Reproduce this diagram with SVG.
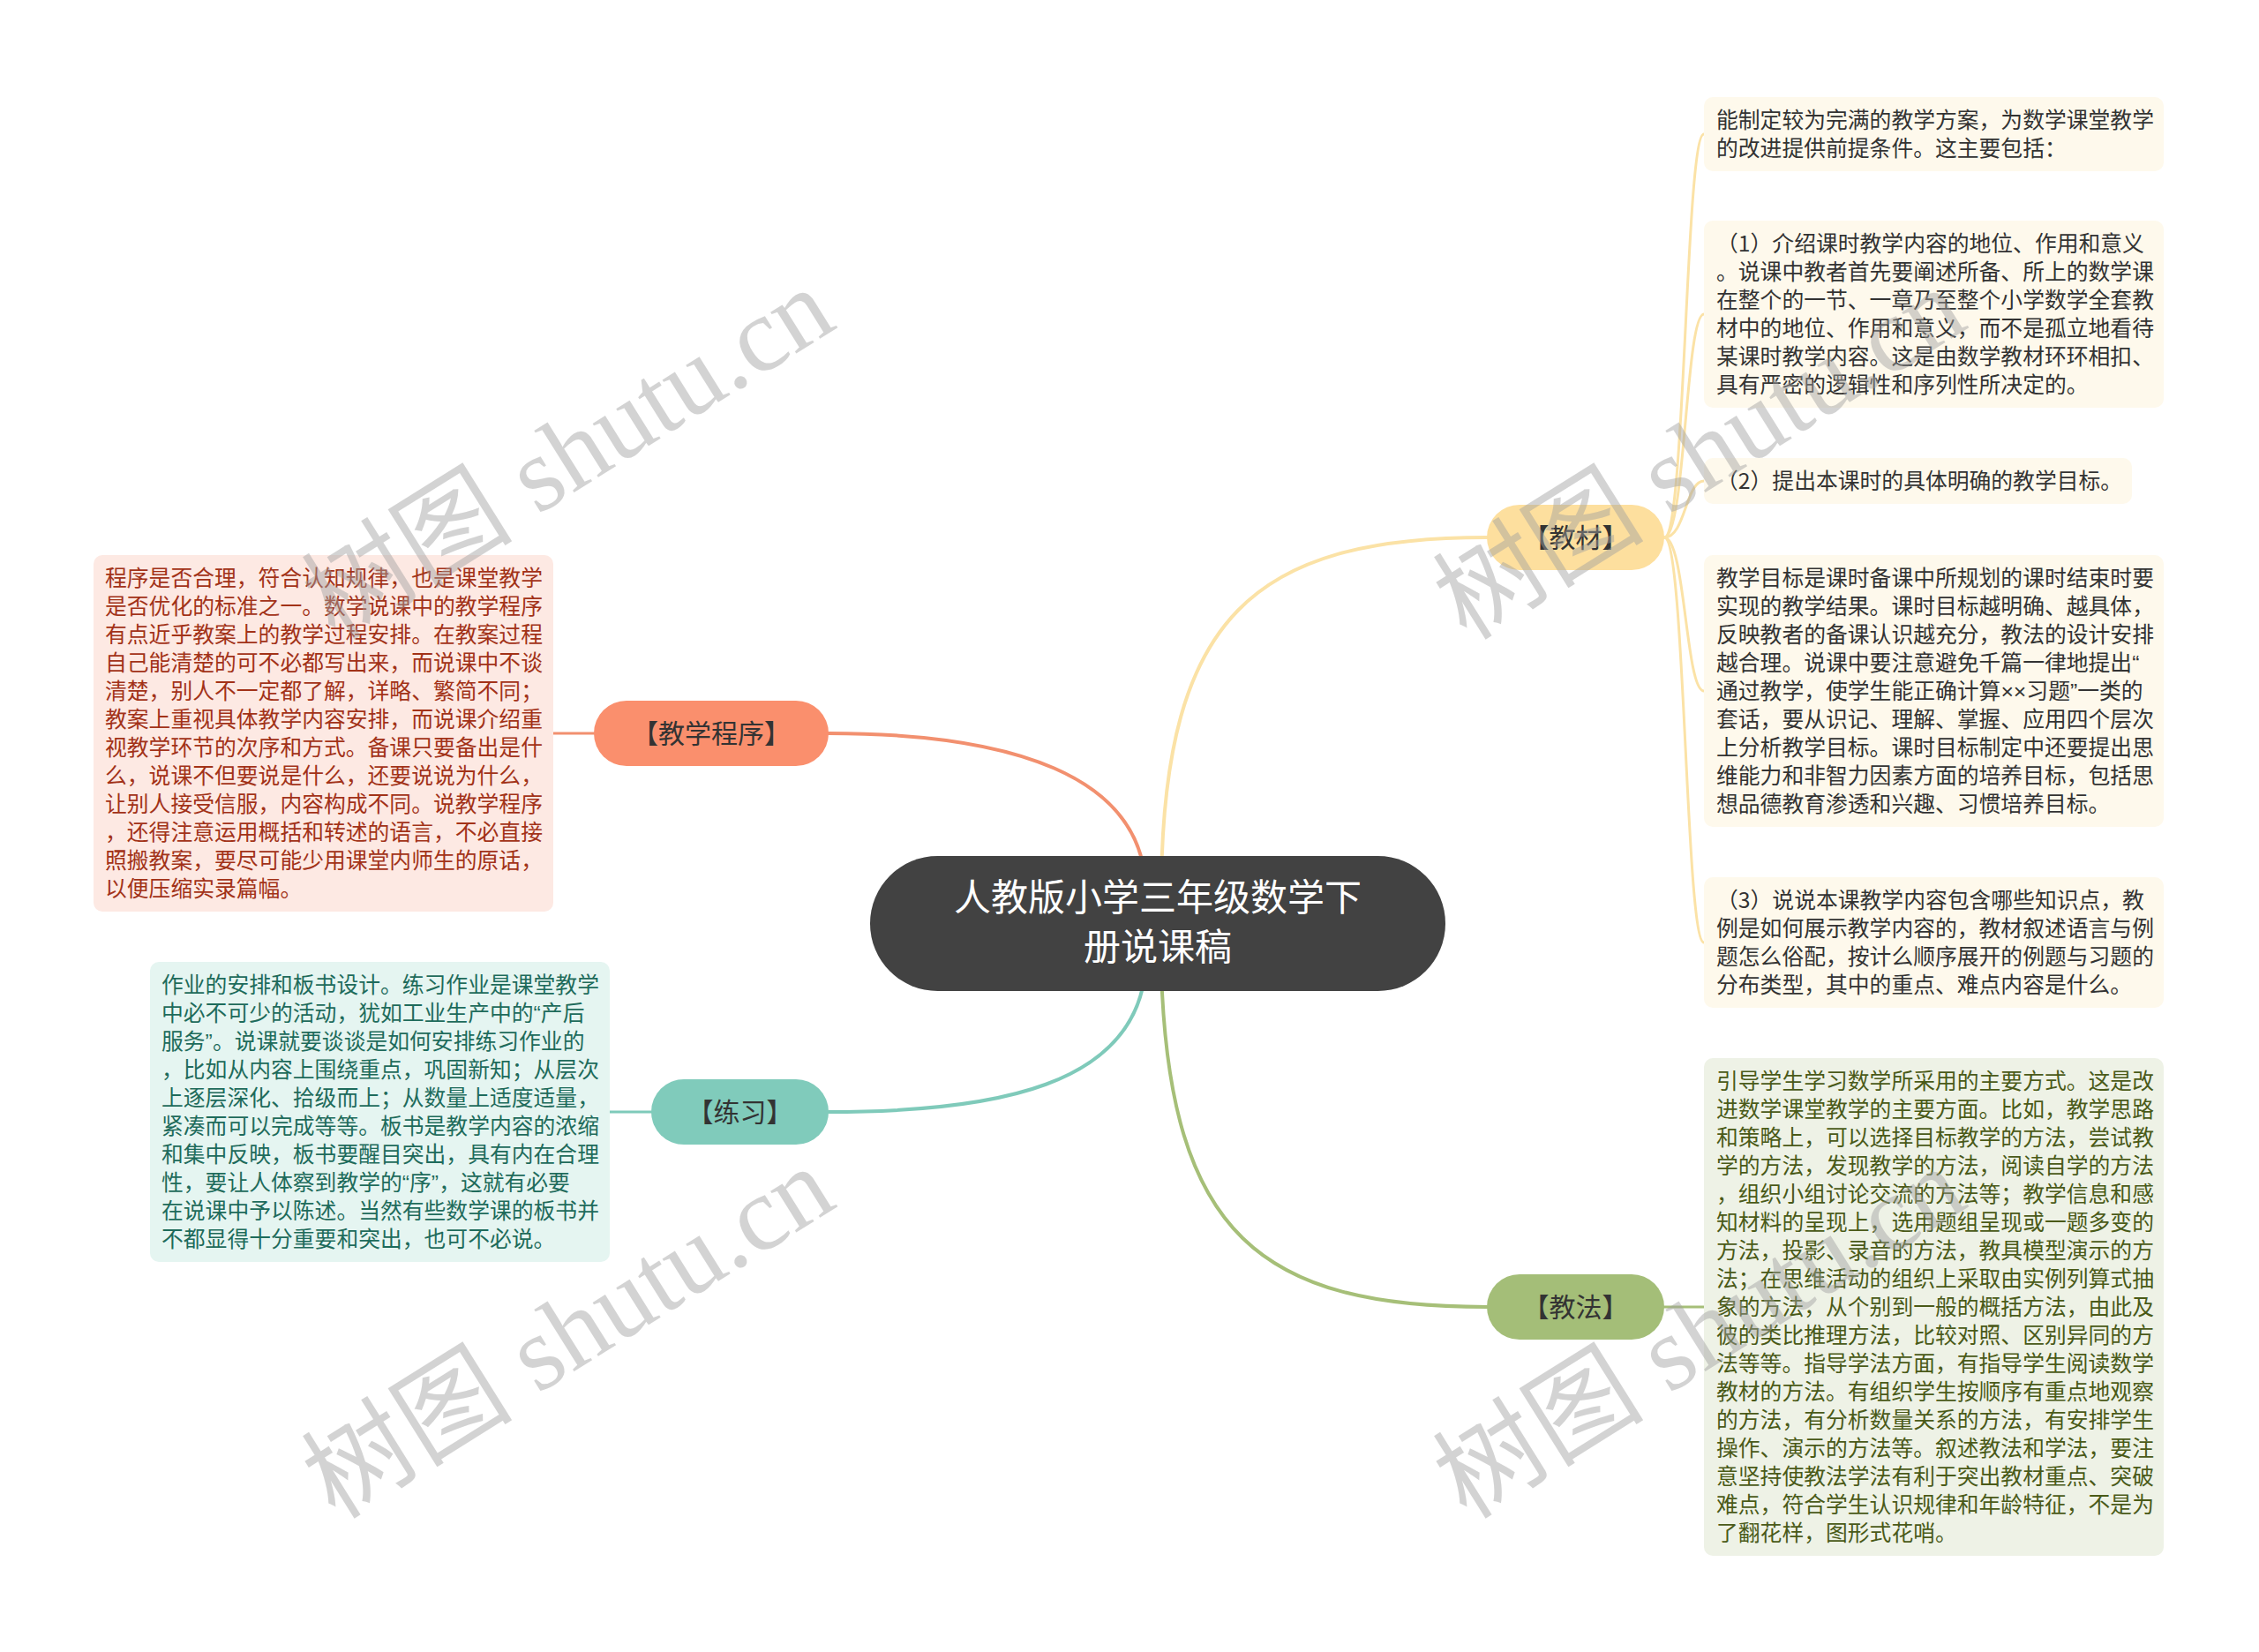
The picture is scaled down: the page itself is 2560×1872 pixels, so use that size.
<svg xmlns="http://www.w3.org/2000/svg" width="2560" height="1872" viewBox="0 0 2560 1872">
<style>
text{font-family:"Noto Sans CJK SC","Noto Sans",sans-serif}
.t{font-size:24.8px}
.q{font-family:"Liberation Sans","Noto Sans CJK SC",sans-serif}
.br{font-size:30px;fill:#333;text-anchor:middle}
.root{font-size:42px;fill:#fff;text-anchor:middle}
.c{fill:none;stroke-linecap:round}
.wm{font-family:"Liberation Serif","Noto Sans CJK SC",serif;font-size:120px;fill:#a0a0a0;opacity:.45}
</style>
<rect width="2560" height="1872" fill="#fff"/>
<g id="connectors">
<path class="c" d="M1298 1000 C1290 880 1150 831 939 831" stroke="#F2906F" stroke-width="4"/>
<path class="c" d="M1298 1100 C1285 1230 1130 1260 939 1260" stroke="#7FCABA" stroke-width="4"/>
<path class="c" d="M1316 1000 C1320 700 1420 609 1685 609" stroke="#FBE2A6" stroke-width="4"/>
<path class="c" d="M1316 1100 C1325 1400 1430 1481 1685 1481" stroke="#A6BF78" stroke-width="4"/>
<path class="c" d="M673 831 H627" stroke="#F2906F" stroke-width="3"/>
<path class="c" d="M738 1260 H691" stroke="#7FCABA" stroke-width="3"/>
<path class="c" d="M1886 1481 H1931" stroke="#A6BF78" stroke-width="3"/>
<path class="c" d="M1886 609 C1910 609 1910 152 1931 152" stroke="#FBE2A6" stroke-width="3"/>
<path class="c" d="M1886 609 C1910 609 1910 356 1931 356" stroke="#FBE2A6" stroke-width="3"/>
<path class="c" d="M1886 609 C1910 609 1910 545 1931 545" stroke="#FBE2A6" stroke-width="3"/>
<path class="c" d="M1886 609 C1910 609 1910 783 1931 783" stroke="#FBE2A6" stroke-width="3"/>
<path class="c" d="M1886 609 C1910 609 1910 1068 1931 1068" stroke="#FBE2A6" stroke-width="3"/>
</g>
<g id="root">
<rect x="986" y="970" width="652" height="153" rx="76.5" fill="#424242"/>
<text class="root" x="1312" y="1032">人教版小学三年级数学下</text>
<text class="root" x="1312" y="1088">册说课稿</text>
</g>
<g id="n-chengxu">
<rect x="673" y="794" width="266" height="74" rx="37" fill="#FA8F6D"/>
<text class="br" x="806" y="842">【教学程序】</text>
</g>
<g id="n-lianxi">
<rect x="738" y="1223" width="201" height="74" rx="37" fill="#80CBBB"/>
<text class="br" x="838.5" y="1271">【练习】</text>
</g>
<g id="n-jiaocai">
<rect x="1685" y="572" width="201" height="74" rx="37" fill="#FDDF9E"/>
<text class="br" x="1785.5" y="620">【教材】</text>
</g>
<g id="n-jiaofa">
<rect x="1685" y="1444" width="201" height="74" rx="37" fill="#A4BE78"/>
<text class="br" x="1785.5" y="1492">【教法】</text>
</g>
<g id="leaf-chengxu">
<rect x="106" y="629" width="521" height="404" rx="10" fill="#FDE9E3"/>
<text class="t" fill="#A23218">
<tspan x="119" y="664">程序是否合理，符合认知规律，也是课堂教学</tspan>
<tspan x="119" y="696">是否优化的标准之一。数学说课中的教学程序</tspan>
<tspan x="119" y="728">有点近乎教案上的教学过程安排。在教案过程</tspan>
<tspan x="119" y="760">自己能清楚的可不必都写出来，而说课中不谈</tspan>
<tspan x="119" y="792">清楚，别人不一定都了解，详略、繁简不同；</tspan>
<tspan x="119" y="824">教案上重视具体教学内容安排，而说课介绍重</tspan>
<tspan x="119" y="856">视教学环节的次序和方式。备课只要备出是什</tspan>
<tspan x="119" y="888">么，说课不但要说是什么，还要说说为什么，</tspan>
<tspan x="119" y="920">让别人接受信服，内容构成不同。说教学程序</tspan>
<tspan x="119" y="952">，还得注意运用概括和转述的语言，不必直接</tspan>
<tspan x="119" y="984">照搬教案，要尽可能少用课堂内师生的原话，</tspan>
<tspan x="119" y="1016">以便压缩实录篇幅。</tspan>
</text>
</g>
<g id="leaf-lianxi">
<rect x="170" y="1090" width="521" height="340" rx="10" fill="#E5F5F1"/>
<text class="t" fill="#1E6B5B">
<tspan x="183" y="1125">作业的安排和板书设计。练习作业是课堂教学</tspan>
<tspan x="183" y="1157">中必不可少的活动，犹如工业生产中的<tspan class="q">“</tspan>产后</tspan>
<tspan x="183" y="1189">服务<tspan class="q">”</tspan>。说课就要谈谈是如何安排练习作业的</tspan>
<tspan x="183" y="1221">，比如从内容上围绕重点，巩固新知；从层次</tspan>
<tspan x="183" y="1253">上逐层深化、拾级而上；从数量上适度适量，</tspan>
<tspan x="183" y="1285">紧凑而可以完成等等。板书是教学内容的浓缩</tspan>
<tspan x="183" y="1317">和集中反映，板书要醒目突出，具有内在合理</tspan>
<tspan x="183" y="1349">性，要让人体察到教学的<tspan class="q">“</tspan>序<tspan class="q">”</tspan>，这就有必要</tspan>
<tspan x="183" y="1381">在说课中予以陈述。当然有些数学课的板书并</tspan>
<tspan x="183" y="1413">不都显得十分重要和突出，也可不必说。</tspan>
</text>
</g>
<g id="leaf-jc1">
<rect x="1931" y="110" width="521" height="84" rx="10" fill="#FEF9EC"/>
<text class="t" fill="#333">
<tspan x="1945" y="145">能制定较为完满的教学方案，为数学课堂教学</tspan>
<tspan x="1945" y="177">的改进提供前提条件。这主要包括：</tspan>
</text>
</g>
<g id="leaf-jc2">
<rect x="1931" y="250" width="521" height="212" rx="10" fill="#FEF9EC"/>
<text class="t" fill="#333">
<tspan x="1945" y="285">（1）介绍课时教学内容的地位、作用和意义</tspan>
<tspan x="1945" y="317">。说课中教者首先要阐述所备、所上的数学课</tspan>
<tspan x="1945" y="349">在整个的一节、一章乃至整个小学数学全套教</tspan>
<tspan x="1945" y="381">材中的地位、作用和意义，而不是孤立地看待</tspan>
<tspan x="1945" y="413">某课时教学内容。这是由数学教材环环相扣、</tspan>
<tspan x="1945" y="445">具有严密的逻辑性和序列性所决定的。</tspan>
</text>
</g>
<g id="leaf-jc3">
<rect x="1931" y="519" width="485" height="52" rx="10" fill="#FEF9EC"/>
<text class="t" fill="#333"><tspan x="1945" y="554">（2）提出本课时的具体明确的教学目标。</tspan></text>
</g>
<g id="leaf-jc4">
<rect x="1931" y="629" width="521" height="308" rx="10" fill="#FEF9EC"/>
<text class="t" fill="#333">
<tspan x="1945" y="664">教学目标是课时备课中所规划的课时结束时要</tspan>
<tspan x="1945" y="696">实现的教学结果。课时目标越明确、越具体，</tspan>
<tspan x="1945" y="728">反映教者的备课认识越充分，教法的设计安排</tspan>
<tspan x="1945" y="760">越合理。说课中要注意避免千篇一律地提出<tspan class="q">“</tspan></tspan>
<tspan x="1945" y="792">通过教学，使学生能正确计算<tspan class="q">××</tspan>习题<tspan class="q">”</tspan>一类的</tspan>
<tspan x="1945" y="824">套话，要从识记、理解、掌握、应用四个层次</tspan>
<tspan x="1945" y="856">上分析教学目标。课时目标制定中还要提出思</tspan>
<tspan x="1945" y="888">维能力和非智力因素方面的培养目标，包括思</tspan>
<tspan x="1945" y="920">想品德教育渗透和兴趣、习惯培养目标。</tspan>
</text>
</g>
<g id="leaf-jc5">
<rect x="1931" y="994" width="521" height="148" rx="10" fill="#FEF9EC"/>
<text class="t" fill="#333">
<tspan x="1945" y="1029">（3）说说本课教学内容包含哪些知识点，教</tspan>
<tspan x="1945" y="1061">例是如何展示教学内容的，教材叙述语言与例</tspan>
<tspan x="1945" y="1093">题怎么俗配，按计么顺序展开的例题与习题的</tspan>
<tspan x="1945" y="1125">分布类型，其中的重点、难点内容是什么。</tspan>
</text>
</g>
<g id="leaf-jiaofa">
<rect x="1931" y="1199" width="521" height="564" rx="10" fill="#EEF2E6"/>
<text class="t" fill="#4A5A18">
<tspan x="1945" y="1234">引导学生学习数学所采用的主要方式。这是改</tspan>
<tspan x="1945" y="1266">进数学课堂教学的主要方面。比如，教学思路</tspan>
<tspan x="1945" y="1298">和策略上，可以选择目标教学的方法，尝试教</tspan>
<tspan x="1945" y="1330">学的方法，发现教学的方法，阅读自学的方法</tspan>
<tspan x="1945" y="1362">，组织小组讨论交流的方法等；教学信息和感</tspan>
<tspan x="1945" y="1394">知材料的呈现上，选用题组呈现或一题多变的</tspan>
<tspan x="1945" y="1426">方法，投影、录音的方法，教具模型演示的方</tspan>
<tspan x="1945" y="1458">法；在思维活动的组织上采取由实例列算式抽</tspan>
<tspan x="1945" y="1490">象的方法，从个别到一般的概括方法，由此及</tspan>
<tspan x="1945" y="1522">彼的类比推理方法，比较对照、区别异同的方</tspan>
<tspan x="1945" y="1554">法等等。指导学法方面，有指导学生阅读数学</tspan>
<tspan x="1945" y="1586">教材的方法。有组织学生按顺序有重点地观察</tspan>
<tspan x="1945" y="1618">的方法，有分析数量关系的方法，有安排学生</tspan>
<tspan x="1945" y="1650">操作、演示的方法等。叙述教法和学法，要注</tspan>
<tspan x="1945" y="1682">意坚持使教法学法有利于突出教材重点、突破</tspan>
<tspan x="1945" y="1714">难点，符合学生认识规律和年龄特征，不是为</tspan>
<tspan x="1945" y="1746">了翻花样，图形式花哨。</tspan>
</text>
</g>
<g id="watermarks">
<text class="wm" transform="translate(380 727) rotate(-32)">树图 shutu.cn</text>
<text class="wm" transform="translate(1662 727) rotate(-32)">树图 shutu.cn</text>
<text class="wm" transform="translate(380 1723) rotate(-32)">树图 shutu.cn</text>
<text class="wm" transform="translate(1662 1723) rotate(-32)">树图 shutu.cn</text>
</g>
</svg>
